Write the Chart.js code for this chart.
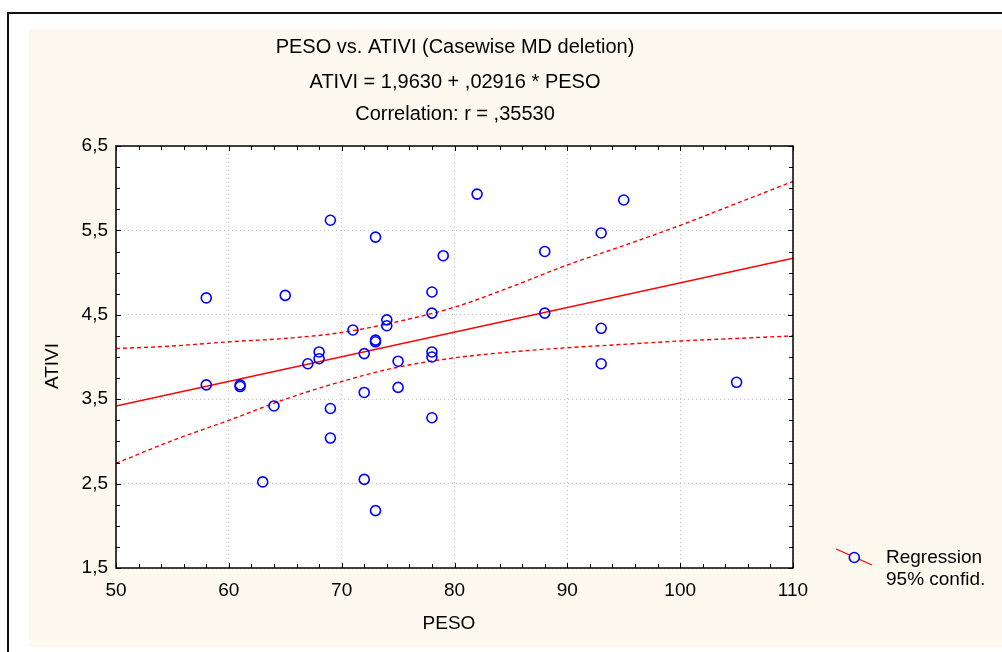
<!DOCTYPE html>
<html>
<head>
<meta charset="utf-8">
<script src="https://cdn.jsdelivr.net/npm/chart.js@4.4.0/dist/chart.umd.min.js"></script>
<style>
body{margin:0;background:#fff;width:1002px;height:652px;overflow:hidden;position:relative;}
#frame{position:absolute;left:7px;top:12px;width:1100px;height:700px;border-left:2px solid #111;border-top:2px solid #111;}
#c{position:absolute;left:29px;top:29px;background:#fdf9ee;}
</style>
</head>
<body>
<div id="frame"></div>
<canvas id="c" width="973" height="618"></canvas>
<script>
// data
var pesoValues = [58,58,61,61,63,64,65,67,68,68,69,69,69,71,72,72,72,73,73,73,73,74,74,75,75,78,78,78,78,78,79,82,88,88,93,93,93,95,105];
var ativiValues = [4.70,3.67,3.67,3.65,2.52,3.42,4.73,3.92,4.06,3.98,5.62,3.39,3.04,4.32,4.04,3.58,2.55,5.42,4.20,4.18,2.18,4.44,4.37,3.95,3.64,4.77,4.52,4.06,4.00,3.28,5.20,5.93,5.25,4.52,5.47,4.34,3.92,5.86,3.70];

var regX = [50, 110];
var regY = [3.42, 5.17];

var bandX = [50,55,60,65,70,75,80,85,90,95,100,105,110];
var bandUpper = [4.10,4.13,4.18,4.22,4.29,4.42,4.59,4.83,5.09,5.32,5.56,5.82,6.08];
var bandLower = [2.74,3.01,3.25,3.50,3.71,3.88,3.99,4.06,4.11,4.15,4.19,4.22,4.25];

var titleLines = ["PESO vs. ATIVI (Casewise MD deletion)", "ATIVI = 1,9630 + ,02916 * PESO", "Correlation: r = ,35530"];
var xTitle = "PESO";
var yTitle = "ATIVI";
var legendLabels = ["Regression", "95% confid."];

function pairs(xs, ys) {
  return xs.map(function (x, i) { return {x: x, y: ys[i]}; });
}

Chart.defaults.font.family = "'Liberation Sans', Arial, sans-serif";
Chart.defaults.font.size = 19;
Chart.defaults.color = '#000';

var FONT = "19px 'Liberation Sans', Arial, sans-serif";
var TITLE_FONT = "20px 'Liberation Sans', Arial, sans-serif";

var decor = {
  id: 'decor',
  beforeDraw: function (chart) {
    var a = chart.chartArea, ctx = chart.ctx;
    ctx.save();
    ctx.fillStyle = '#fff';
    ctx.fillRect(a.left, a.top, a.right - a.left, a.bottom - a.top);
    ctx.restore();
  },
  afterDraw: function (chart) {
    var a = chart.chartArea, ctx = chart.ctx;
    var xs = chart.scales.x, ys = chart.scales.y;
    ctx.save();
    // frame
    ctx.strokeStyle = '#000';
    ctx.lineWidth = 1.5;
    ctx.strokeRect(a.left, a.top, a.right - a.left, a.bottom - a.top);
    // inner tick marks
    ctx.lineWidth = 1;
    ctx.beginPath();
    for (var v = 50; v <= 110; v += 2) {
      var px = Math.round(xs.getPixelForValue(v)) + 0.5;
      var len = (v % 10 === 0) ? 5 : 4;
      ctx.moveTo(px, a.bottom); ctx.lineTo(px, a.bottom - len);
      ctx.moveTo(px, a.top); ctx.lineTo(px, a.top + len);
    }
    for (var w = 1.5; w <= 6.5001; w += 0.25) {
      var py = Math.round(ys.getPixelForValue(w)) + 0.5;
      var l2 = (Math.abs((w - 1.5) % 1) < 0.01) ? 5 : 4;
      ctx.moveTo(a.left, py); ctx.lineTo(a.left + l2, py);
      ctx.moveTo(a.right, py); ctx.lineTo(a.right - l2, py);
    }
    ctx.stroke();

    // titles
    ctx.fillStyle = '#000';
    ctx.font = TITLE_FONT;
    ctx.textAlign = 'center';
    ctx.textBaseline = 'middle';
    var ty = [18, 53, 85];
    titleLines.forEach(function (t, i) { ctx.fillText(t, 426, ty[i]); });

    // axis titles
    ctx.font = FONT;
    ctx.fillText(xTitle, 420, 595);
    ctx.save();
    ctx.translate(24, 337);
    ctx.rotate(-Math.PI / 2);
    ctx.fillText(yTitle, 0, 0);
    ctx.restore();

    // legend
    ctx.strokeStyle = '#ff0000';
    ctx.lineWidth = 1.2;
    ctx.beginPath();
    ctx.moveTo(807, 520); ctx.lineTo(843, 536);
    ctx.stroke();
    ctx.strokeStyle = '#0000ff';
    ctx.lineWidth = 1.6;
    ctx.beginPath();
    ctx.arc(825.3, 528.5, 5, 0, Math.PI * 2);
    ctx.fillStyle = '#fdf9ee';
    ctx.fill();
    ctx.stroke();
    ctx.fillStyle = '#000';
    ctx.textAlign = 'left';
    ctx.fillText(legendLabels[0], 857, 529);
    ctx.fillText(legendLabels[1], 857, 551);
    ctx.restore();
  }
};

new Chart(document.getElementById('c'), {
  type: 'scatter',
  data: {
    datasets: [
      {
        label: 'ATIVI',
        data: pairs(pesoValues, ativiValues),
        pointRadius: 5,
        pointBorderWidth: 1.6,
        borderColor: '#0000ff',
        backgroundColor: 'rgba(0,0,0,0)',
        showLine: false,
        order: 0
      },
      {
        label: 'Regression',
        data: pairs(regX, regY),
        showLine: true,
        pointRadius: 0,
        borderColor: '#ff0000',
        borderWidth: 1.4,
        order: 1
      },
      {
        label: 'Upper 95%',
        data: pairs(bandX, bandUpper),
        showLine: true,
        pointRadius: 0,
        borderColor: '#ff0000',
        borderWidth: 1.4,
        borderDash: [4, 3],
        cubicInterpolationMode: 'monotone',
        order: 1
      },
      {
        label: 'Lower 95%',
        data: pairs(bandX, bandLower),
        showLine: true,
        pointRadius: 0,
        borderColor: '#ff0000',
        borderWidth: 1.4,
        borderDash: [4, 3],
        cubicInterpolationMode: 'monotone',
        order: 1
      }
    ]
  },
  options: {
    responsive: false,
    animation: false,
    layout: { padding: { top: 117, right: 209, bottom: 0, left: 0 } },
    plugins: {
      legend: { display: false },
      tooltip: { enabled: false }
    },
    scales: {
      x: {
        type: 'linear',
        min: 50,
        max: 110,
        ticks: { stepSize: 10, padding: 11, maxRotation: 0 },
        grid: { color: '#c4c4c4', drawTicks: false, lineWidth: 1 },
        border: { display: false, dash: [1, 3] },
        afterFit: function (s) { s.height = 79; }
      },
      y: {
        type: 'linear',
        min: 1.5,
        max: 6.5,
        ticks: {
          stepSize: 1,
          padding: 8,
          callback: function (v) { return v.toFixed(1).replace('.', ','); }
        },
        grid: { color: '#c4c4c4', drawTicks: false, lineWidth: 1 },
        border: { display: false, dash: [1, 3] },
        afterFit: function (s) { s.width = 87; }
      }
    }
  },
  plugins: [decor]
});
</script>
</body>
</html>
